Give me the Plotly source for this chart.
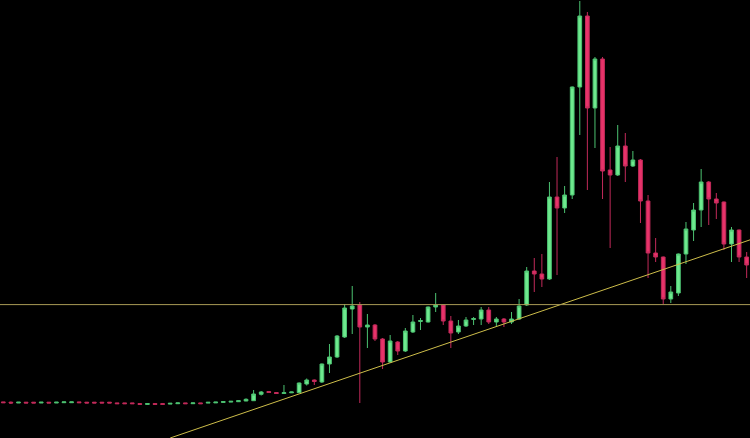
import plotly.graph_objects as go

# OHLC values (arbitrary price units, no axis shown)
open_ = [36.1, 35.8, 35.0, 35.8, 35.8, 35.0, 35.8, 35.0, 35.3, 35.3,
         36.1, 35.8, 35.8, 35.8, 35.8, 35.1, 35.1, 35.1, 34.4, 33.6,
         34.4, 34.4, 33.9, 34.3, 35.1, 34.3, 35.1, 34.9, 35.1, 35.6,
         35.9, 36.3, 37.0, 37.3, 43.7, 46.5, 45.5, 44.5, 45.2, 45.3,
         54, 58, 56, 74, 81, 101, 129, 133, 111, 113,
         99, 76, 96, 87, 106, 116.5, 116, 131, 133, 117,
         106, 112, 118.5, 119, 128, 116, 119, 116, 119, 133,
         167, 164, 159, 241, 230, 243, 351, 422, 330, 379,
         268, 263, 292, 272, 278, 237, 185, 181, 139, 145,
         184, 208, 228, 256, 239, 236, 194, 208, 181]
high = [36.1, 36.5, 35.8, 35.8, 35.8, 35.8, 35.8, 35.8, 36.1, 36.1,
        36.1, 35.8, 35.8, 35.8, 35.8, 35.1, 35.1, 35.1, 34.4, 34.8,
        34.4, 34.4, 34.7, 35.1, 35.1, 35.1, 35.1, 35.7, 35.9, 36.4,
        36.7, 37.5, 39.7, 48, 47, 47, 46, 53, 46.2, 55.5,
        59.5, 58.5, 74.5, 94, 103, 134, 152, 136, 124, 114,
        100, 103, 97, 110, 123, 120, 131.5, 145, 133.5, 122,
        118, 121, 121, 131, 131, 121, 120, 126, 139, 171,
        180, 184, 256, 281, 252, 351.5, 437, 426, 381, 381,
        291, 313, 305, 287, 279, 243, 200, 181.5, 152, 184.5,
        216, 235, 269, 257, 245, 236.5, 211, 208.5, 186]
low = [35.3, 34.0, 35.0, 35.0, 35.0, 35.0, 35.0, 35.0, 35.3, 35.3,
       35.3, 35.0, 35.0, 35.0, 35.0, 34.3, 34.3, 34.3, 33.6, 33.2,
       33.6, 33.6, 33.9, 34.3, 34.3, 34.3, 34.3, 34.9, 35.1, 35.6,
       35.9, 36.1, 36.8, 37, 42.5, 45, 44, 44, 45, 45,
       52.5, 53, 55, 65, 80, 100, 104, 35, 90, 97,
       69, 75, 83, 86, 105, 108, 115.5, 126, 113, 90,
       104, 111, 113, 113, 114, 111, 111, 114, 118, 132,
       146, 151, 158, 163, 225, 239, 303, 248, 290, 239,
       190, 262, 256, 271, 215, 160, 176, 134, 135, 142,
       174, 197, 211, 213, 219, 188, 176, 176, 160]
close = [35.3, 35.0, 35.8, 35.0, 35.0, 35.8, 35.0, 35.8, 36.1, 36.1,
         35.3, 35.0, 35.0, 35.0, 35.0, 34.3, 34.3, 34.3, 33.6, 34.4,
         33.6, 33.6, 34.7, 35.1, 34.3, 35.1, 34.3, 35.7, 35.9, 36.4,
         36.7, 37.3, 38.7, 44, 46, 45.5, 44.5, 45.3, 46, 55,
         58, 56.5, 74, 81, 102, 130, 132, 111, 113, 99,
         76, 97, 87, 107, 116, 117.5, 131, 133, 117, 105,
         112, 118, 119.5, 128, 116, 119, 116, 119, 132, 167,
         164, 159, 241, 230, 243, 351, 422, 330, 379, 267,
         263, 292, 272, 278, 237, 185, 181, 139, 146, 184,
         209, 228, 256, 239, 235, 194, 208, 181, 173]
bars = list(range(len(open_)))

# support level and rising trendline
level_value = 133.4
trend_bars = [22, 98]
trend_values = [0, 197]

X_MIN, X_MAX = -0.435, 98.44
Y_MIN, Y_MAX = 0, 438

fig = go.Figure()
fig.add_trace(go.Candlestick(
    x=bars, open=open_, high=high, low=low, close=close,
    increasing=dict(fillcolor="#6ee98e", line=dict(color="#4cc271", width=1)),
    decreasing=dict(fillcolor="#e8336a", line=dict(color="#c22a5a", width=1)),
    whiskerwidth=0,
    hoverinfo="skip",
))

# trendline extended to the right edge
slope = (trend_values[1] - trend_values[0]) / (trend_bars[1] - trend_bars[0])
tx = [trend_bars[0], X_MAX]
ty = [trend_values[0], trend_values[0] + slope * (X_MAX - trend_bars[0])]
fig.add_trace(go.Scatter(x=tx, y=ty, mode="lines",
                         line=dict(color="#cdbd4a", width=1), hoverinfo="skip"))

fig.add_shape(type="line", xref="paper", x0=0, x1=1, yref="y",
              y0=level_value, y1=level_value,
              line=dict(color="#a89a55", width=1))

fig.update_layout(
    width=750, height=438,
    margin=dict(l=0, r=0, t=0, b=0),
    paper_bgcolor="#000000", plot_bgcolor="#000000",
    showlegend=False,
    xaxis=dict(range=[X_MIN, X_MAX], visible=False, rangeslider=dict(visible=False),
               showgrid=False, zeroline=False),
    yaxis=dict(range=[Y_MIN, Y_MAX], visible=False, showgrid=False, zeroline=False),
    hovermode=False,
)

fig.write_html(
    "out.html",
    config={"displayModeBar": False},
    post_script="document.body.style.margin='0';document.body.style.overflow='hidden';"
                "document.body.style.background='#000';",
)
